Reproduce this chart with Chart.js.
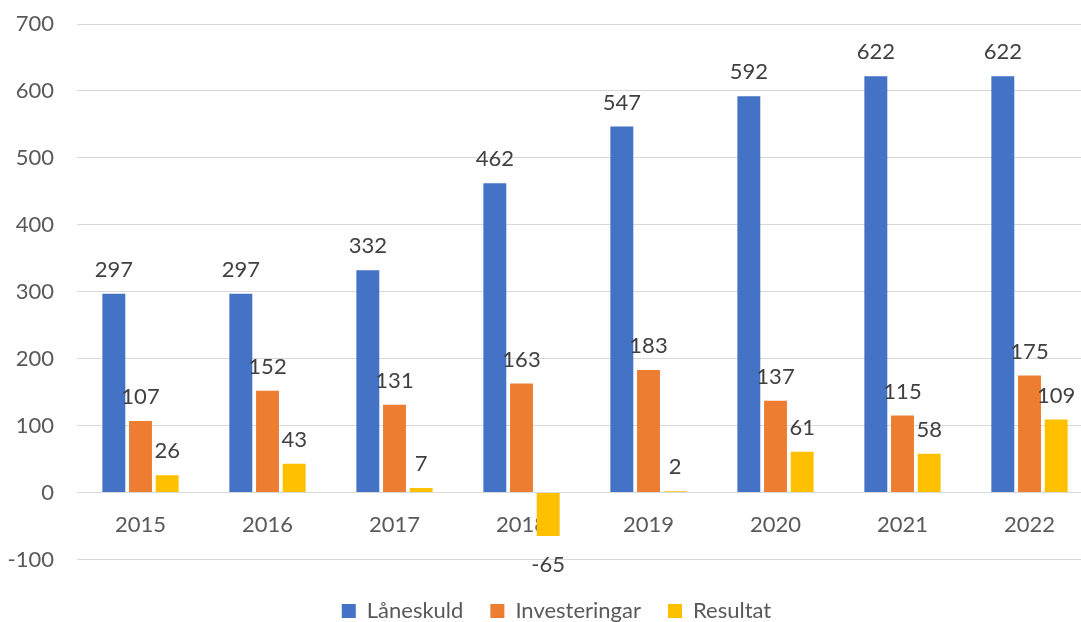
<!DOCTYPE html>
<html>
<head>
<meta charset="utf-8">
<script src="https://cdn.jsdelivr.net/npm/chart.js@4/dist/chart.umd.min.js"></script>
<style>
  html, body { margin: 0; padding: 0; background: #fff; overflow: hidden; }
  #wrap { position: absolute; left: 0; top: 0; width: 1100px; height: 632px; }
</style>
</head>
<body>
<div id="wrap"><canvas id="c" width="1100" height="632"></canvas></div>
<script>
const categories = ['2015', '2016', '2017', '2018', '2019', '2020', '2021', '2022'];
const laneskuld = [297, 297, 332, 462, 547, 592, 622, 622];
const investeringar = [107, 152, 131, 163, 183, 137, 115, 175];
const resultat = [26, 43, 7, -65, 2, 61, 58, 109];
const seriesNames = ['Låneskuld', 'Investeringar', 'Resultat'];
const yTicks = [-100, 0, 100, 200, 300, 400, 500, 600, 700];

const FONT = 'Lato, "Open Sans", sans-serif';
const FS = 22;

const labelPlugin = {
  id: 'barLabels',
  afterLayout(chart) {
    if (chart.legend) { chart.legend.left += 10; chart.legend.right += 10; }
  },
  afterDatasetsDraw(chart) {
    const ctx = chart.ctx;
    ctx.save();
    ctx.font = FS + 'px ' + FONT;
    ctx.fillStyle = '#404040';
    ctx.textAlign = 'center';
    ctx.textBaseline = 'middle';
    chart.data.datasets.forEach((ds, di) => {
      const meta = chart.getDatasetMeta(di);
      meta.data.forEach((bar, i) => {
        const v = ds.data[i];
        const y = v >= 0 ? bar.y - 24 : bar.y + 29;
        ctx.fillText(String(v), bar.x, y);
      });
    });
    ctx.restore();
  }
};

new Chart(document.getElementById('c'), {
  type: 'bar',
  data: {
    labels: categories,
    datasets: [
      { label: seriesNames[0], data: laneskuld, backgroundColor: '#4472C4' },
      { label: seriesNames[1], data: investeringar, backgroundColor: '#ED7D31' },
      { label: seriesNames[2], data: resultat, backgroundColor: '#FFC000' }
    ]
  },
  options: {
    responsive: false,
    animation: false,
    devicePixelRatio: 1,
    layout: { padding: { left: 0, right: 7, top: 24, bottom: 0 } },
    datasets: { bar: { categoryPercentage: 0.63, barPercentage: 0.86 } },
    scales: {
      x: {
        position: { y: 0 },
        grid: { display: false, drawTicks: false },
        border: { display: false },
        ticks: { color: '#595959', font: { family: FONT, size: FS }, padding: 19, maxRotation: 0 },
        afterFit(scale) { scale.paddingLeft = 0; scale.paddingRight = 0; scale.paddingTop = 0; scale.paddingBottom = 0; }
      },
      xGap: {
        type: 'category',
        position: 'bottom',
        display: true,
        grid: { display: false, drawTicks: false },
        border: { display: false },
        ticks: { display: false },
        afterFit(scale) { scale.height = 13.5; scale.paddingLeft = 0; scale.paddingRight = 0; }
      },
      y: {
        min: -100, max: 700,
        afterBuildTicks(scale) { scale.ticks = yTicks.map(v => ({ value: v })); },
        grid: { color: '#d9d9d9', lineWidth: 1, drawTicks: false },
        border: { display: false },
        ticks: { color: '#595959', font: { family: FONT, size: FS }, padding: 23 },
        afterFit(scale) { scale.width = 77; scale.paddingTop = 0; scale.paddingBottom = 0; }
      }
    },
    plugins: {
      legend: {
        position: 'bottom',
        labels: { color: '#595959', font: { family: FONT, size: FS }, boxWidth: 14, boxHeight: 14, padding: 27 }
      },
      tooltip: { enabled: false }
    }
  },
  plugins: [labelPlugin]
});
</script>
</body>
</html>
